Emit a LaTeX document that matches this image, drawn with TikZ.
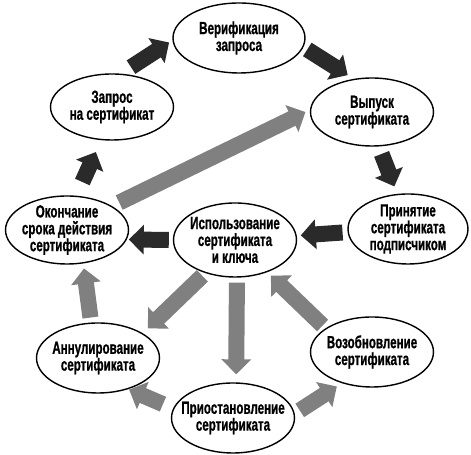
\documentclass[tikz,border=0pt]{standalone}
\usepackage{fontspec}
\setmainfont{Liberation Sans}[FakeStretch=0.66,BoldFeatures={FakeBold=0.8}]
\usepackage{tikz}
\usetikzlibrary{arrows.meta,shapes.geometric}
\usepackage{xcolor}
\definecolor{cycledark}{RGB}{42,42,42}
\definecolor{cyclegray}{RGB}{128,128,128}

\begin{document}
\begin{tikzpicture}[x=0.02cm,y=-0.02cm,
    stage/.style={ellipse,draw,line width=0.8pt,inner xsep=-12pt,inner ysep=-8pt,
      minimum width=2.46cm,minimum height=1.36cm,align=center,
      font=\fontsize{10}{9.6}\selectfont\bfseries},
    darr/.style={line width=0.32cm,cycledark,-{Triangle[width=0.58cm,length=0.3cm]}},
    garr/.style={darr,cyclegray}]
    \useasboundingbox (0,0) rectangle (471,455);

    % stages of the certificate life cycle
    \node[stage,minimum width=2.64cm,minimum height=1.4cm] (verif) at (239,38) {Верификация\\запроса};
    \node[stage,minimum height=1.32cm] (request) at (112,107) {Запрос\\на сертификат};
    \node[stage] (issue) at (372,112) {Выпуск\\сертификата};
    \node[stage,minimum width=2.4cm,minimum height=1.4cm] (accept) at (408,229) {Принятие\\сертификата\\подписчиком};
    \node[stage] (ending) at (67,230) {Окончание\\срока действия\\сертификата};
    \node[stage,minimum height=1.48cm] (use) at (235,240) {Использование\\сертификата\\и ключа};
    \node[stage,minimum height=1.4cm] (annul) at (98,358) {Аннулирование\\сертификата};
    \node[stage,minimum height=1.4cm] (resume) at (372,352) {Возобновление\\сертификата};
    \node[stage,minimum height=1.4cm] (suspend) at (233,418) {Приостановление\\сертификата};

    % main cycle
    \draw[darr,shorten <=0.24cm,shorten >=0.08cm] (request.75) -- (verif.182);
    \draw[darr,shorten <=0.09cm,shorten >=0.14cm] (verif.-8) -- (issue.119);
    \draw[darr,shorten <=0.16cm,shorten >=0.16cm] (issue.-79) -- (accept.107);
    \draw[darr,shorten <=0.1cm,shorten >=0.08cm] (accept.183) -- (use.4);
    \draw[darr,shorten <=0.08cm,shorten >=0.04cm] (use.180) -- (ending.-9);
    \draw[darr,shorten <=0.3cm,shorten >=0.26cm] (ending.75) -- (request.252);

    % side paths
    \draw[garr,shorten <=0.16cm,shorten >=0.1cm] (ending.28) -- (issue.178);
    \draw[garr,shorten <=0.08cm,shorten >=0.14cm] (use.228) -- (annul.29);
    \draw[garr,shorten <=0.1cm,shorten >=0.16cm] (use.-87) -- (suspend.85);
    \draw[garr,shorten <=0.08cm,shorten >=0.1cm] (resume.153) -- (use.-45);
    \draw[garr,shorten <=0.22cm,shorten >=0.02cm] (suspend.171) -- (annul.-46);
    \draw[garr,shorten <=0.12cm,shorten >=0.12cm] (suspend.4) -- (resume.226);
    \draw[garr,shorten <=0.1cm,shorten >=0.1cm] (annul.101) -- (ending.-64);
\end{tikzpicture}
\end{document}
